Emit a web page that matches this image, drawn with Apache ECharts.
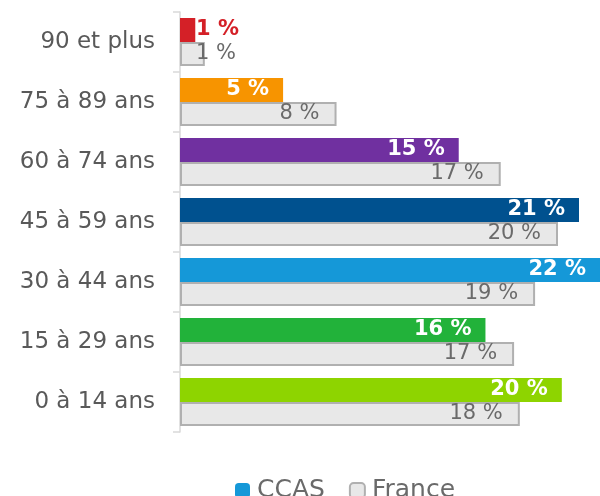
<!DOCTYPE html>
<html><head><meta charset="utf-8">
<script src="https://cdn.jsdelivr.net/npm/echarts@6/dist/echarts.min.js"></script>
<style>html,body{margin:0;padding:0;background:#fff}#c{width:600px;height:496px}</style>
</head><body><div id="c"></div>
<script>
const categories = ['90 et plus','75 à 89 ans','60 à 74 ans','45 à 59 ans','30 à 44 ans','15 à 29 ans','0 à 14 ans'];
const ccasValues = [0.8, 5.4, 14.6, 20.9, 22.0, 16.0, 20.0];
const franceValues = [1.3, 8.2, 16.8, 19.8, 18.6, 17.5, 17.8];
const ccasLabels = ['1 %','5 %','15 %','21 %','22 %','16 %','20 %'];
const franceLabels = ['1 %','8 %','17 %','20 %','19 %','17 %','18 %'];
const ccasColors = ['#d42027','#f79400','#7030a0','#00518f','#1598d8','#22b23a','#8ed400'];

const font = '"DejaVu Sans", sans-serif';
const chart = echarts.init(document.getElementById('c'));

const ccasData = ccasValues.map((v,i)=>{
  const d = {value:v, itemStyle:{color:ccasColors[i]}};
  if (i===0) d.label = {position:'insideLeft', distance:16, color:'#d42027'};
  return d;
});
const franceData = franceValues.map((v,i)=>{
  const d = {value:v};
  if (i===0) d.label = {position:'insideLeft', distance:16};
  return d;
});

chart.setOption({
  animation:false,
  grid:{left:180, right:0, top:12, bottom:64, containLabel:false},
  legend:{
    left:230, top:473, itemWidth:15, itemHeight:15, itemGap:24,
    textStyle:{fontFamily:font, fontSize:25, color:'#6a6a6a', padding:[0,0,0,2]},
    data:[{name:'CCAS', itemStyle:{color:'#1598d8'}}, {name:'France'}]
  },
  xAxis:{type:'value', min:0, max:22, show:false},
  yAxis:{
    type:'category', data:categories, inverse:true,
    axisLine:{show:true, lineStyle:{color:'#d9d9d9', width:1.5}},
    axisTick:{show:true, length:7, lineStyle:{color:'#d9d9d9', width:1.5}},
    axisLabel:{fontFamily:font, fontSize:23, color:'#595959', margin:25}
  },
  series:[
    {
      name:'CCAS', type:'bar', data:ccasData, barWidth:24, barGap:'0%',
      itemStyle:{color:'#1598d8'},
      label:{show:true, position:'insideRight', distance:14, fontFamily:font, fontSize:21, fontWeight:'bold', color:'#ffffff',
        formatter:p=>ccasLabels[p.dataIndex]}
    },
    {
      name:'France', type:'bar', data:franceData, barWidth:24,
      itemStyle:{color:'#e8e8e8', borderColor:'#b0b0b0', borderWidth:2},
      label:{show:true, position:'insideRight', distance:17, fontFamily:font, fontSize:21, color:'#6a6a6a',
        formatter:p=>franceLabels[p.dataIndex]}
    }
  ]
});
</script></body></html>
